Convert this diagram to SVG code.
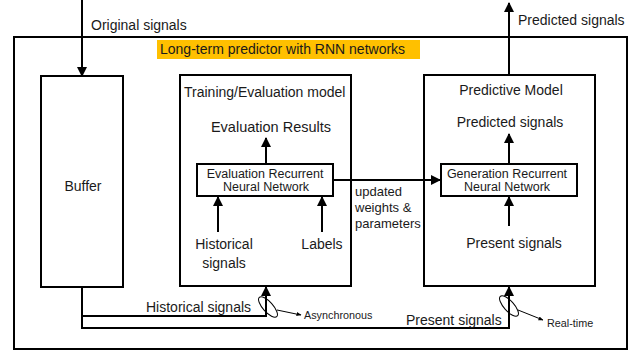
<svg xmlns="http://www.w3.org/2000/svg" width="644" height="356" viewBox="0 0 644 356">
<defs>
<marker id="ah" viewBox="0 0 10 10" refX="9" refY="5" markerWidth="5" markerHeight="5" orient="auto-start-reverse" markerUnits="strokeWidth">
<path d="M0,0 L10,5 L0,10 z" fill="#000"/>
</marker>
<marker id="ahs" viewBox="0 0 10 10" refX="9" refY="5" markerWidth="5" markerHeight="5" orient="auto" markerUnits="strokeWidth">
<path d="M0,1 L10,5 L0,9 z" fill="#000"/>
</marker>
</defs>
<style>
text{font-family:"Liberation Sans",Arial,sans-serif;fill:#1a1a1a}
.t14{font-size:14px}
.t13{font-size:13px}
.t12{font-size:12.5px}
.t10{font-size:10.8px}
.box{fill:#fff;stroke:#000;stroke-width:2}
.ln{fill:none;stroke:#000;stroke-width:2}
.thin{fill:none;stroke:#000;stroke-width:1}
.mid{text-anchor:middle}
</style>
<rect id="outer" x="14" y="37" width="613" height="312" class="box"/>
<g id="title">
<rect x="157" y="40" width="263" height="19" fill="#FFC000"/>
<text x="160" y="54" class="t14">Long-term predictor with RNN networks</text>
</g>
<g id="buffer">
<rect x="41" y="76" width="82" height="211" class="box"/>
<text x="83" y="191" class="t14 mid">Buffer</text>
</g>
<g id="training">
<rect x="180" y="75" width="171" height="211" class="box"/>
<text x="184" y="97" class="t14">Training/Evaluation model</text>
<text x="271" y="132" style="font-size:14.5px" class="mid">Evaluation Results</text>
<text x="224" y="249" class="t14 mid">Historical</text>
<text x="224" y="268" class="t14 mid">signals</text>
<text x="322" y="249" class="t14 mid">Labels</text>
</g>
<g id="evalrnn">
<rect x="197" y="164" width="136" height="32" class="box"/>
<text x="265" y="178" class="t12 mid">Evaluation Recurrent</text>
<text x="266" y="191" class="t12 mid">Neural Network</text>
</g>
<g id="predictive">
<rect x="424" y="75" width="171" height="211" class="box"/>
<text x="511" y="95" class="t14 mid">Predictive Model</text>
<text x="510" y="127" class="t14 mid">Predicted signals</text>
<text x="514" y="248" class="t14 mid">Present signals</text>
</g>
<g id="genrnn">
<rect x="441" y="164" width="136" height="32" class="box"/>
<text x="507" y="178" class="t12 mid">Generation Recurrent</text>
<text x="507" y="191" class="t12 mid">Neural Network</text>
</g>
<g id="connectors">
<line x1="82" y1="0" x2="82" y2="76" class="ln" marker-end="url(#ah)"/>
<line x1="509" y1="75" x2="509" y2="3" class="ln" marker-end="url(#ah)"/>
<line x1="266" y1="164" x2="266" y2="138" class="ln" marker-end="url(#ah)"/>
<line x1="218" y1="232" x2="218" y2="197" class="ln" marker-end="url(#ah)"/>
<line x1="322" y1="232" x2="322" y2="197" class="ln" marker-end="url(#ah)"/>
<line x1="333" y1="180" x2="440" y2="180" class="ln" marker-end="url(#ah)"/>
<line x1="509" y1="164" x2="509" y2="134" class="ln" marker-end="url(#ah)"/>
<line x1="509" y1="226" x2="509" y2="197" class="ln" marker-end="url(#ah)"/>
<path d="M82,287 V328 H509 V287" class="ln" marker-end="url(#ah)"/>
<path d="M82,316 H266 V287" class="ln" marker-end="url(#ah)"/>
<ellipse cx="268" cy="307" rx="13" ry="5" transform="rotate(48 268 307)" class="thin"/>
<line x1="277" y1="310" x2="301" y2="315" class="thin" marker-end="url(#ahs)"/>
<ellipse cx="509" cy="306" rx="13" ry="5" transform="rotate(48 509 306)" class="thin"/>
<line x1="518" y1="310" x2="543" y2="320" class="thin" marker-end="url(#ahs)"/>
</g>
<g id="labels">
<text x="91" y="30" class="t14">Original signals</text>
<text x="518" y="25" class="t14">Predicted signals</text>
<text x="355" y="196" class="t13">updated</text>
<text x="355" y="212" class="t13">weights &amp;</text>
<text x="355" y="228" class="t13">parameters</text>
<text x="146" y="312" class="t14">Historical signals</text>
<text x="406" y="325" class="t14">Present signals</text>
<text x="304" y="319" class="t10">Asynchronous</text>
<text x="547" y="327" class="t10">Real-time</text>
</g>
</svg>
